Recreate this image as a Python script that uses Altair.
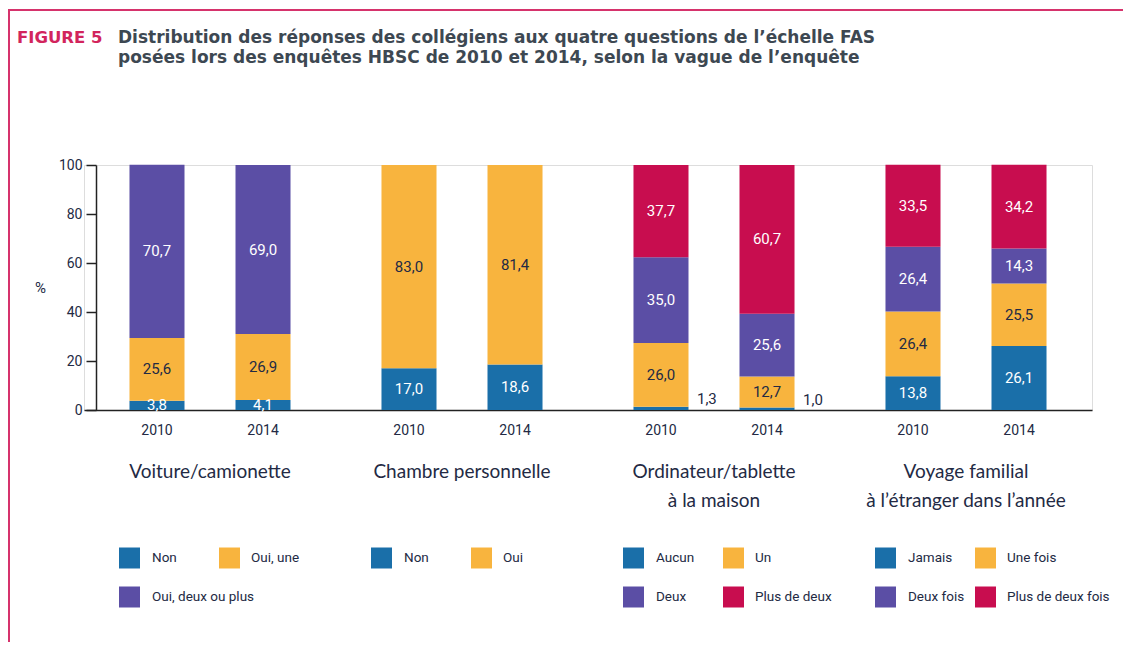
import altair as alt
import pandas as pd

# ---------------- data ----------------
groups = [
    "Voiture/camionette",
    "Chambre personnelle",
    "Ordinateur/tablette\nà la maison",
    "Voyage familial\nà l’étranger dans l’année",
]
years = ["2010", "2014"]
categories = [
    ["Non", "Oui, une", "Oui, deux ou plus"],
    ["Non", "Oui"],
    ["Aucun", "Un", "Deux", "Plus de deux"],
    ["Jamais", "Une fois", "Deux fois", "Plus de deux fois"],
]
values_2010 = [
    [3.8, 25.6, 70.7],
    [17.0, 83.0],
    [1.3, 26.0, 35.0, 37.7],
    [13.8, 26.4, 26.4, 33.5],
]
values_2014 = [
    [4.1, 26.9, 69.0],
    [18.6, 81.4],
    [1.0, 12.7, 25.6, 60.7],
    [26.1, 25.5, 14.3, 34.2],
]
level_colors = ["#1a6fa9", "#f8b43e", "#5b4ea5", "#c80d4f"]
y_ticks = [0, 20, 40, 60, 80, 100]

title_tag = "FIGURE 5"
title_lines = [
    "Distribution des réponses des collégiens aux quatre questions de l’échelle FAS",
    "posées lors des enquêtes HBSC de 2010 et 2014, selon la vague de l’enquête",
]

# ---------------- tables ----------------
rows = []
for gi, g in enumerate(groups):
    for year, vals in zip(years, [values_2010[gi], values_2014[gi]]):
        for li, (cat, v) in enumerate(zip(categories[gi], vals)):
            rows.append(dict(group=g, year=year, level=li, category=cat, value=v,
                             label=f"{v:.1f}".replace(".", ","), outside=bool(v < 2)))
df = pd.DataFrame(rows)

years_df = pd.DataFrame([dict(group=g, year=y) for g in groups for y in years])
groups_df = pd.DataFrame(dict(group=groups))
legend_df = pd.DataFrame([
    dict(group=g, level=li, category=c, col=li % 2, row=li // 2)
    for g, cats in zip(groups, categories) for li, c in enumerate(cats)
])

# ---------------- layout constants ----------------
W, H = 1008, 245
NUM = "Roboto"
TXT = "#232a44"

x_enc = alt.X("group:N", sort=groups,
              scale=alt.Scale(paddingInner=0, paddingOuter=0),
              axis=alt.Axis(labels=False, ticks=False, title=None,
                            domainColor="#222222", domainWidth=1.5))
xo_enc = alt.XOffset("year:N", sort=years,
                     scale=alt.Scale(paddingInner=0.481, paddingOuter=0.429))
y_scale = alt.Scale(domain=[0, 100])
color_enc = alt.Color("level:O", scale=alt.Scale(domain=[0, 1, 2, 3], range=level_colors),
                      legend=None)

base = alt.Chart(df).transform_stack(
    stack="value", groupby=["group", "year"], as_=["y0", "y1"],
    sort=[alt.SortField("level", order="ascending")],
).transform_calculate(mid="(datum.y0 + datum.y1) / 2")

bars = base.mark_bar().encode(
    x=x_enc, xOffset=xo_enc,
    y=alt.Y("y0:Q", scale=y_scale,
            axis=alt.Axis(values=y_ticks, title="%", titleAngle=0, titleX=-56, titleY=122,
                          titleAlign="center", titleBaseline="middle",
                          titleFont=NUM, titleFontSize=15, titleFontWeight="normal",
                          titleColor=TXT, offset=-12, tickSize=10, tickWidth=1.5,
                          tickColor="#222222", domainColor="#222222", domainWidth=1.5,
                          labelPadding=4, labelFont=NUM, labelFontSize=14,
                          labelColor=TXT, grid=False)),
    y2="y1:Q",
    color=color_enc,
)

inside = base.transform_filter("!datum.outside").mark_text(
    font=NUM, fontSize=15, baseline="middle", align="center"
).encode(
    x=x_enc, xOffset=xo_enc,
    y=alt.Y("mid:Q", scale=y_scale),
    text="label:N",
    color=alt.condition(alt.datum.level == 1, alt.value(TXT), alt.value("white")),
)

outside = base.transform_filter("datum.outside").mark_text(
    font=NUM, fontSize=15, baseline="bottom", align="left", dx=36, color=TXT
).encode(
    x=x_enc, xOffset=xo_enc,
    y=alt.Y("y1:Q", scale=y_scale),
    text="label:N",
)

year_labels = alt.Chart(years_df).mark_text(
    font=NUM, fontSize=14, baseline="middle", align="center", color=TXT
).encode(x=x_enc, xOffset=xo_enc, y=alt.value(H + 21), text="year:N")

group_titles = alt.Chart(groups_df).mark_text(
    font="Lato", fontSize=19, baseline="alphabetic", align="center", color=TXT,
    lineBreak="\n", lineHeight=29
).encode(x=x_enc, y=alt.value(313), text="group:N")

# legend: square swatches drawn as custom symbol paths (size=4 -> 1 px per unit)
legend_layers = []
sq_paths = ["M -91 -10.5 H -70 V 10.5 H -91 Z", "M 9 -10.5 H 30 V 10.5 H 9 Z"]
col_lab = [-58, 41]
row_y = [393, 432]
for c in (0, 1):
    for r in (0, 1):
        sub = alt.Chart(legend_df).transform_filter(
            f"datum.col == {c} && datum.row == {r}")
        legend_layers.append(sub.mark_point(
            shape=sq_paths[c], size=4, filled=True, opacity=1, strokeWidth=0
        ).encode(x=x_enc, y=alt.value(row_y[r]), color=color_enc))
        legend_layers.append(sub.mark_text(
            font=NUM, fontSize=13.5, align="left", baseline="middle", color=TXT,
            dx=col_lab[c]).encode(x=x_enc, y=alt.value(row_y[r]), text="category:N"))

one = pd.DataFrame(dict(k=[0]))
TFONT = "DejaVu Sans"
tag = alt.Chart(one).mark_text(
    font=TFONT, fontSize=16.5, fontWeight="bold", color="#d2245c",
    align="left", baseline="alphabetic"
).encode(x=alt.value(-67), y=alt.value(-122), text=alt.value(title_tag))
title1 = alt.Chart(one).mark_text(
    font=TFONT, fontSize=17, fontWeight="bold", color="#3d4852",
    align="left", baseline="alphabetic"
).encode(x=alt.value(34), y=alt.value(-122), text=alt.value(title_lines[0]))
title2 = alt.Chart(one).mark_text(
    font=TFONT, fontSize=17, fontWeight="bold", color="#3d4852",
    align="left", baseline="alphabetic"
).encode(x=alt.value(34), y=alt.value(-102), text=alt.value(title_lines[1]))

border = alt.Chart(one).mark_rect(
    fillOpacity=0, stroke="#d6336c", strokeWidth=2
).encode(x=alt.value(-75), x2=alt.value(W + 120), y=alt.value(-155), y2=alt.value(H + 400))

chart = alt.layer(
    border, bars, inside, outside, year_labels, group_titles, *legend_layers,
    tag, title1, title2,
).properties(
    width=W, height=H,
    autosize=alt.AutoSizeParams(type="none"),
    padding={"left": 76, "top": 157, "right": 31, "bottom": 232},
).configure_view(stroke=None).configure(background="white")

chart.save("out.html", embed_options={"renderer": "svg", "actions": False})
